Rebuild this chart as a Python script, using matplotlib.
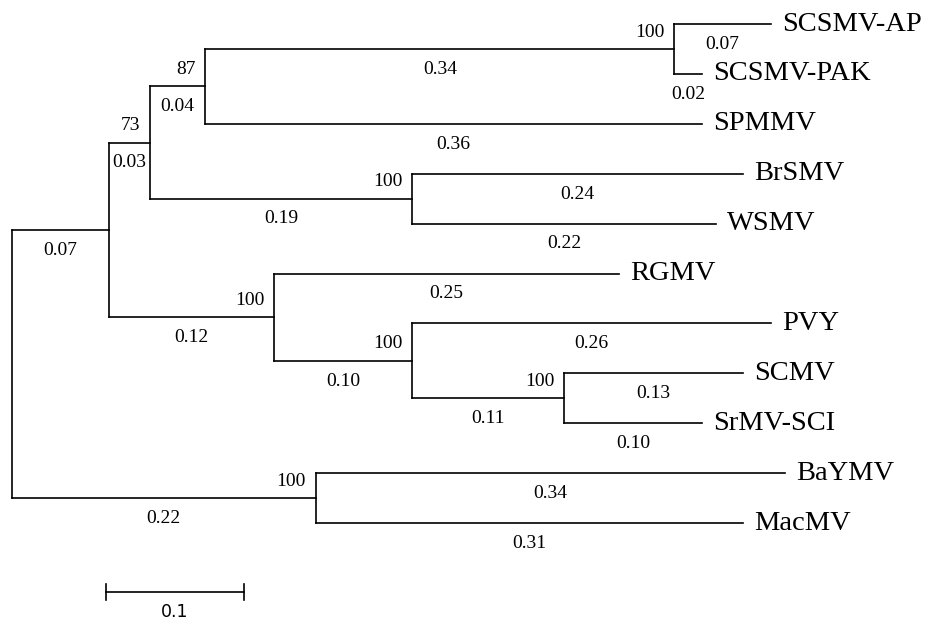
import matplotlib.pyplot as plt

# tree given as parent links; children keep the list order
nodes = ["root", "A", "B", "C", "D", "SCSMV-AP", "SCSMV-PAK", "SPMMV",
         "E", "BrSMV", "WSMV", "F", "RGMV", "G", "PVY", "H", "SCMV",
         "SrMV-SCI", "I", "BaYMV", "MacMV"]
parent = [None, "root", "A", "B", "C", "D", "D", "C", "B", "E", "E",
          "A", "F", "F", "G", "G", "H", "H", "root", "I", "I"]
lengths = [0, 0.07, 0.03, 0.04, 0.34, 0.07, 0.02, 0.36, 0.19, 0.24, 0.22,
           0.12, 0.25, 0.10, 0.26, 0.11, 0.13, 0.10, 0.22, 0.34, 0.31]
support = [None, None, 73, 87, 100, None, None, None, 100, None, None,
           100, None, 100, None, 100, None, None, 100, None, None]
scale_len = 0.1

children = {n: [] for n in nodes}
for n, p in zip(nodes, parent):
    if p is not None:
        children[p].append(n)
blen = dict(zip(nodes, lengths))
boot = dict(zip(nodes, support))

xpos, ypos = {}, {}
leaf_count = [0]


def layout(n, x):
    xpos[n] = x
    if not children[n]:
        ypos[n] = leaf_count[0]
        leaf_count[0] += 1
        return
    for c in children[n]:
        layout(c, x + blen[c])
    ypos[n] = (ypos[children[n][0]] + ypos[children[n][-1]]) / 2


layout("root", 0.0)

fig = plt.figure(figsize=(9.35, 6.25), dpi=100)
ax = fig.add_axes([0, 0, 1, 1])
px_per_unit = 1380.0
ax.set_xlim(-12 / px_per_unit, (935 - 12) / px_per_unit)
row_px = 49.9
ax.set_ylim((625 - 24) / row_px, -24 / row_px)
ax.axis("off")

lw = 1.2
serif = "Liberation Serif"
num_size = 14
for n in nodes:
    p = parent[nodes.index(n)]
    if p is not None:
        ax.plot([xpos[p], xpos[n]], [ypos[n], ypos[n]], color="black",
                lw=lw, solid_capstyle="projecting")
        xm = (xpos[p] + xpos[n]) / 2
        ax.annotate(f"{blen[n]:.2f}", (xm, ypos[n]), xytext=(0, -8.5),
                    textcoords="offset points", ha="center", va="top",
                    fontsize=num_size, family=serif)
    if children[n]:
        ys = [ypos[c] for c in children[n]]
        ax.plot([xpos[n], xpos[n]], [min(ys), max(ys)], color="black",
                lw=lw, solid_capstyle="projecting")
        if boot[n] is not None:
            ax.annotate(str(boot[n]), (xpos[n], ypos[n]), xytext=(-7, 6),
                        textcoords="offset points", ha="right",
                        va="bottom", fontsize=num_size, family=serif)
    else:
        ax.annotate(n, (xpos[n], ypos[n]), xytext=(8, 0),
                    textcoords="offset points", ha="left", va="center",
                    fontsize=20.5, family=serif)

# scale bar
sx0 = (106 - 12) / px_per_unit
sy = (592 - 24) / row_px
ax.plot([sx0, sx0 + scale_len], [sy, sy], color="black", lw=lw)
for sx in (sx0, sx0 + scale_len):
    ax.plot([sx, sx], [sy - 0.16, sy + 0.16], color="black", lw=lw)
ax.annotate(f"{scale_len:g}", (sx0 + scale_len / 2, sy), xytext=(0, -8),
            textcoords="offset points", ha="center", va="top",
            fontsize=12.5, family="DejaVu Sans")

fig.savefig("out.png", dpi=100)
